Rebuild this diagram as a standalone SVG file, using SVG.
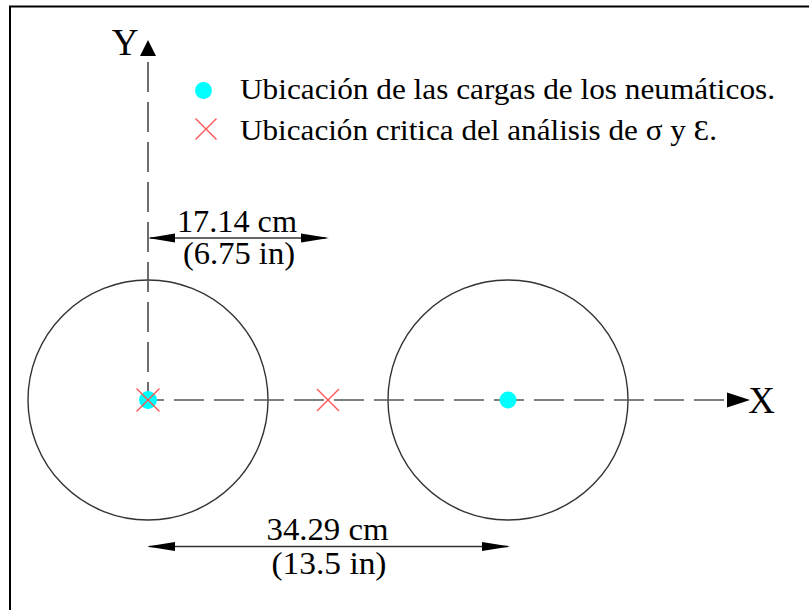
<svg xmlns="http://www.w3.org/2000/svg" width="809" height="610" viewBox="0 0 809 610">
<style>
text{font-family:"Liberation Serif","Times New Roman",serif;fill:#000;}
.axis{stroke:#555;stroke-width:1.7;stroke-dasharray:30 10;fill:none;}
.circ{fill:none;stroke:#333;stroke-width:1.4;}
.dim{stroke:#333;stroke-width:1.3;fill:none;}
.cross{stroke:#ff5555;stroke-width:1.4;fill:none;}
.dot{fill:#00ffff;}
.head{fill:#000;}
</style>
<rect x="0" y="0" width="809" height="610" fill="#fff"/>
<path d="M10 610 V6.5 H809" fill="none" stroke="#000" stroke-width="2"/>

<g id="circle-left"><circle class="circ" cx="148" cy="400" r="120"/></g>
<g id="circle-right"><circle class="circ" cx="508" cy="400" r="120"/></g>

<g id="connectors">
  <line class="axis" x1="148" y1="62" x2="148" y2="400"/>
  <line class="axis" x1="148" y1="400" x2="727" y2="400" stroke-dashoffset="14"/>
  <polygon class="head" points="148,40 140,56 156,56"/>
  <polygon class="head" points="750,400 727,392.5 727,407.5"/>
  <line class="dim" x1="150" y1="238" x2="326" y2="238"/>
  <polygon class="head" points="148,238 175,233.5 175,242.5"/>
  <polygon class="head" points="329,238 301,233.5 301,242.5"/>
  <line class="dim" x1="149" y1="546.5" x2="508" y2="546.5"/>
  <polygon class="head" points="147,546.5 175,542 175,551"/>
  <polygon class="head" points="510,546.5 482,542 482,551"/>
</g>

<g id="axis-labels">
  <text x="125" y="55" font-size="37" text-anchor="middle">Y</text>
  <text x="761.5" y="413" font-size="37" text-anchor="middle">X</text>
</g>

<g id="load-left">
  <circle class="dot" cx="148" cy="400" r="9"/>
  <path class="cross" d="M136.5 388.5 L159.5 411.5 M159.5 388.5 L136.5 411.5"/>
</g>
<g id="critical-mid">
  <path class="cross" d="M317 389 L339 411 M339 389 L317 411"/>
</g>
<g id="load-right">
  <circle class="dot" cx="508" cy="400" r="8.5"/>
</g>

<g id="legend">
  <circle class="dot" cx="203.5" cy="90.5" r="8.5"/>
  <text x="240" y="99" font-size="29" textLength="535" lengthAdjust="spacingAndGlyphs">Ubicación de las cargas de los neumáticos.</text>
  <path class="cross" d="M195.5 118.5 L216.5 139.5 M216.5 118.5 L195.5 139.5"/>
  <text x="240" y="140" font-size="29" textLength="477" lengthAdjust="spacingAndGlyphs">Ubicación critica del análisis de σ y Ɛ.</text>
</g>

<g id="dim-1">
  <text x="237" y="231.5" font-size="31" text-anchor="middle" textLength="120" lengthAdjust="spacingAndGlyphs">17.14 cm</text>
  <text x="239" y="263.5" font-size="31" text-anchor="middle" textLength="112" lengthAdjust="spacingAndGlyphs">(6.75 in)</text>
</g>
<g id="dim-2">
  <text x="327.5" y="540" font-size="31" text-anchor="middle" textLength="122" lengthAdjust="spacingAndGlyphs">34.29 cm</text>
  <text x="329" y="573.5" font-size="31" text-anchor="middle" textLength="115" lengthAdjust="spacingAndGlyphs">(13.5 in)</text>
</g>
</svg>
